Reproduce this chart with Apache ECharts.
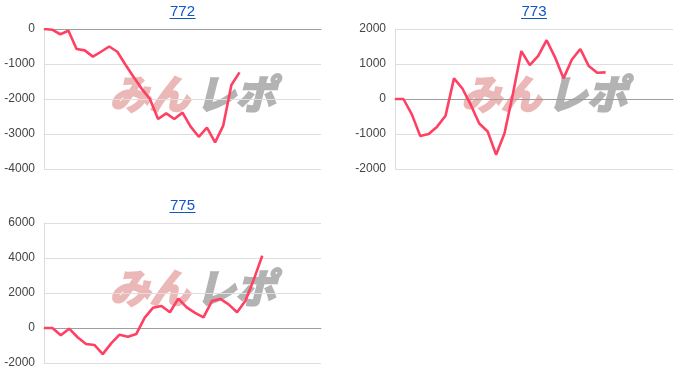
<!DOCTYPE html>
<html><head><meta charset="utf-8">
<script src="https://cdn.jsdelivr.net/npm/echarts@6/dist/echarts.min.js"></script>
<style>html,body{margin:0;padding:0;background:#fff}#c{width:700px;height:388px}</style>
</head><body><div id="c"></div>
<script>
const titles = ['772', '773', '775'];
const catCounts = [35, 34, 34];
const values772 = [0, -20, -150, -50, -570, -610, -790, -650, -500, -650, -1020, -1370, -1710, -2000, -2570, -2410, -2570, -2390, -2790, -3080, -2820, -3240, -2760, -1600, -1240];
const values773 = [0, 0, -440, -1060, -1000, -790, -480, 590, 300, -170, -700, -930, -1590, -980, 150, 1370, 970, 1230, 1680, 1190, 590, 1130, 1430, 940, 750, 760];
const values775 = [0, 0, -420, -40, -530, -910, -970, -1490, -880, -380, -500, -340, 590, 1160, 1260, 900, 1680, 1180, 860, 610, 1540, 1660, 1350, 900, 1560, 2780, 4130];
const yMin = [-4000, -2000, -2000];
const yMax = [0, 2000, 6000];
const yStep = [1000, 1000, 2000];
const seriesValues = [values772, values773, values775];

const grids = [
  {left: 44, top: 29, width: 277, height: 140},
  {left: 395, top: 29, width: 278, height: 140},
  {left: 44, top: 223, width: 277, height: 140}
];
const chart = echarts.init(document.getElementById('c'), null, {renderer: 'canvas'});
const xAxes = [], yAxes = [], series = [], graphics = [];
grids.forEach((g, i) => {
  const cx = g.left + g.width / 2;
  graphics.push({
    type: 'text', silent: true, z: 10, x: cx, y: g.top - 17,
    style: {text: titles[i], fill: '#1155cc', font: '15px "Liberation Sans", Arial, sans-serif',
      textAlign: 'center', textVerticalAlign: 'middle'}
  });
  graphics.push({
    type: 'line', silent: true, z: 10,
    shape: {x1: cx - 13, y1: g.top - 10.5, x2: cx + 13, y2: g.top - 10.5},
    style: {stroke: '#1155cc', lineWidth: 1}
  });
  const cats = [];
  for (let k = 1; k <= catCounts[i]; k++) cats.push(String(k));
  xAxes.push({
    gridIndex: i, type: 'category', data: cats, boundaryGap: false,
    axisLine: {show: true, onZero: true, lineStyle: {color: '#9e9e9e', width: 1}},
    axisTick: {show: false}, axisLabel: {show: false}, splitLine: {show: false}
  });
  yAxes.push({
    gridIndex: i, type: 'value', min: yMin[i], max: yMax[i], interval: yStep[i],
    axisLine: {show: true, lineStyle: {color: '#dcdcdc'}},
    axisTick: {show: false},
    axisLabel: {color: '#444', fontSize: 12, fontFamily: 'Liberation Sans, Arial, sans-serif', margin: 9,
      formatter: v => String(v)},
    splitLine: {lineStyle: {color: '#dedede'}}
  });
  series.push({
    type: 'line', xAxisIndex: i, yAxisIndex: i, data: seriesValues[i],
    symbol: 'none', smooth: false, z: 5,
    lineStyle: {color: '#ff4062', width: 2.6}
  });
  const wx = cx - 74;
  const wy = g.top + 44;
  graphics.push({
    type: 'text', left: wx, top: wy, z: 0, silent: true,
    style: {text: 'みん', fill: '#ebb7b7', stroke: '#ebb7b7', lineWidth: 2.5,
      font: 'italic bold 40px "Noto Sans CJK JP"'}
  });
  graphics.push({
    type: 'text', left: wx + 86, top: wy, z: 0, silent: true,
    style: {text: 'レポ', fill: '#b3b3b3', stroke: '#b3b3b3', lineWidth: 2.5,
      font: 'italic bold 40px "Noto Sans CJK JP"'}
  });
});
chart.setOption({
  animation: false,
  grid: grids,
  xAxis: xAxes,
  yAxis: yAxes,
  series: series,
  graphic: graphics
});
</script></body></html>
